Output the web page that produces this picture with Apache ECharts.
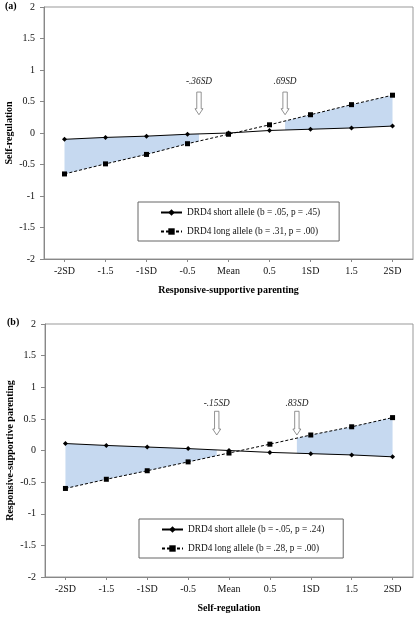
<!DOCTYPE html>
<html>
<head>
<meta charset="utf-8">
<script src="https://cdn.jsdelivr.net/npm/echarts@6/dist/echarts.min.js"></script>
<style>html,body{margin:0;padding:0;background:#fff;}#c{width:419px;height:619px;}</style>
</head>
<body>
<div id="c"></div>
<script>
// ---- data ----
var xValues = [-2, -1.5, -1, -0.5, 0, 0.5, 1, 1.5, 2];
var xTickLabels = ['-2SD', '-1.5', '-1SD', '-0.5', 'Mean', '0.5', '1SD', '1.5', '2SD'];
var yTicks = [-2, -1.5, -1, -0.5, 0, 0.5, 1, 1.5, 2];

// panel (a)
var aShortName = 'DRD4 short allele (b = .05, p = .45)';
var aLongName = 'DRD4 long allele (b = .31, p = .00)';
var aShort = [-0.10, -0.07, -0.05, -0.02, 0.00, 0.04, 0.06, 0.08, 0.11];
var aLong = [-0.65, -0.49, -0.34, -0.17, -0.02, 0.13, 0.29, 0.45, 0.60];
var aRegions = [-0.36, 0.69];

// panel (b)
var bShortName = 'DRD4 short allele (b = -.05, p = .24)';
var bLongName = 'DRD4 long allele (b = .28, p = .00)';
var bShort = [0.11, 0.08, 0.055, 0.03, 0.00, -0.03, -0.05, -0.07, -0.10];
var bLong = [-0.60, -0.455, -0.32, -0.18, -0.04, 0.10, 0.245, 0.375, 0.52];
var bRegions = [-0.15, 0.83];

// arrow geometry in data units: [top, tip, label]
var aArrowY = [0.65, 0.29, 0.81];
var bArrowY = [0.62, 0.245, 0.75];

var FONT = 'Liberation Serif';

function interp(xs, ys, x) {
  for (var i = 0; i < xs.length - 1; i++) {
    if (x >= xs[i] && x <= xs[i + 1]) {
      var t = (x - xs[i]) / (xs[i + 1] - xs[i]);
      return ys[i] + t * (ys[i + 1] - ys[i]);
    }
  }
  return ys[ys.length - 1];
}
function regionPts(s, l, from, to) {
  var pts = [];
  pts.push([from, interp(xValues, s, from), interp(xValues, l, from)]);
  xValues.forEach(function (x, i) {
    if (x > from && x < to) pts.push([x, s[i], l[i]]);
  });
  pts.push([to, interp(xValues, s, to), interp(xValues, l, to)]);
  return pts;
}
function pairs(ys) { return xValues.map(function (x, i) { return [x, ys[i]]; }); }

function shadeSeries(idx, pts) {
  return {
    type: 'custom', xAxisIndex: idx, yAxisIndex: idx, z: 1, silent: true,
    data: pts, encode: { x: 0, y: [1, 2] },
    renderItem: function (params, api) {
      if (params.dataIndex !== 0) return;
      var up = [], lo = [];
      pts.forEach(function (p) { up.push(api.coord([p[0], p[1]])); lo.push(api.coord([p[0], p[2]])); });
      return { type: 'polygon', shape: { points: up.concat(lo.reverse()) },
        style: { fill: '#c6d9f0', stroke: null } };
    }
  };
}
function arrowSeries(idx, xs, ay) {
  var data = xs.map(function (x) { return [x, ay[0], ay[1], ay[2]]; });
  return {
    type: 'custom', xAxisIndex: idx, yAxisIndex: idx, z: 5, silent: true,
    data: data, encode: { x: 0, y: [1, 2] },
    renderItem: function (params, api) {
      var x = api.value(0);
      var top = api.coord([x, api.value(1)]);
      var tip = api.coord([x, api.value(2)]);
      var lab = api.coord([x, api.value(3)]);
      var cx = tip[0], sw = 2.2, hw = 4, hh = 6;
      var pts = [[cx - sw, top[1]], [cx + sw, top[1]], [cx + sw, tip[1] - hh], [cx + hw, tip[1] - hh],
        [cx, tip[1]], [cx - hw, tip[1] - hh], [cx - sw, tip[1] - hh]];
      var txt = (x < 0 ? '-' : '') + '.' + String(Math.round(Math.abs(x) * 100)).padStart(2, '0') + 'SD';
      return { type: 'group', children: [
        { type: 'polygon', shape: { points: pts }, style: { fill: '#fff', stroke: '#777', lineWidth: 0.8 } },
        { type: 'text', x: lab[0], y: lab[1], style: { text: txt, fill: '#222', font: 'italic 9.3px ' + FONT, align: 'center', verticalAlign: 'middle' } }
      ] };
    }
  };
}
function lineSeries(idx, name, ys, dashed) {
  return {
    type: 'line', name: name, xAxisIndex: idx, yAxisIndex: idx, z: 3,
    data: pairs(ys), symbol: dashed ? 'rect' : 'diamond', symbolSize: dashed ? 5 : 5,
    itemStyle: { color: '#000' },
    lineStyle: { color: '#000', width: 1, type: dashed ? [3, 2] : 'solid' },
    animation: false
  };
}
function xAxisCfg(idx, name) {
  return {
    type: 'value', gridIndex: idx, min: -2.25, max: 2.25,
    name: name, nameLocation: 'middle', nameGap: 26, nameMoveOverlap: false,
    nameTextStyle: { fontFamily: FONT, fontWeight: 'bold', fontSize: 10, color: '#000' },
    axisLine: { onZero: false, lineStyle: { color: '#888' } },
    axisTick: { show: true, length: 3, customValues: xValues, lineStyle: { color: '#888' } },
    axisLabel: { customValues: xValues, margin: 7, fontFamily: FONT, fontSize: 10, color: '#111',
      formatter: function (v) { var i = xValues.indexOf(v); return i >= 0 ? xTickLabels[i] : ''; } },
    splitLine: { show: false }
  };
}
function yAxisCfg(idx, name) {
  return {
    type: 'value', gridIndex: idx, min: -2, max: 2, interval: 0.5,
    name: name, nameLocation: 'middle', nameGap: 30, nameRotate: 90, nameMoveOverlap: false,
    nameTextStyle: { fontFamily: FONT, fontWeight: 'bold', fontSize: 10, color: '#000' },
    axisLine: { show: true, onZero: false, lineStyle: { color: '#888' } },
    axisTick: { show: true, length: 4, lineStyle: { color: '#888' } },
    axisLabel: { margin: 9, fontFamily: FONT, fontSize: 10, color: '#111',
      formatter: function (v) { return String(v); } },
    splitLine: { show: false }
  };
}

var chart = echarts.init(document.getElementById('c'), null, { renderer: 'canvas' });
chart.setOption({
  animation: false,
  backgroundColor: '#fff',
  title: [
    { text: '(a)', left: 5, top: 1, padding: 0, textStyle: { fontFamily: FONT, fontWeight: 'bold', fontSize: 10, color: '#000' } },
    { text: '(b)', left: 7, top: 317, padding: 0, textStyle: { fontFamily: FONT, fontWeight: 'bold', fontSize: 10, color: '#000' } }
  ],
  grid: [
    { left: 44, top: 7, width: 369, height: 252, show: true, borderColor: '#999', borderWidth: 1, containLabel: false, outerBoundsMode: 'none' },
    { left: 45, top: 324, width: 368, height: 253, show: true, borderColor: '#999', borderWidth: 1, containLabel: false, outerBoundsMode: 'none' }
  ],
  xAxis: [xAxisCfg(0, 'Responsive-supportive parenting'), xAxisCfg(1, 'Self-regulation')],
  yAxis: [yAxisCfg(0, 'Self-regulation'), yAxisCfg(1, 'Responsive-supportive parenting')],
  legend: [
    { data: [aShortName, aLongName], orient: 'vertical', left: 138, top: 202, itemWidth: 21, itemHeight: 8, itemGap: 10,
      padding: [6, 19, 5, 22], borderColor: '#666', borderWidth: 1, selectedMode: false,
      textStyle: { fontFamily: FONT, fontSize: 9.3, color: '#111' } },
    { data: [bShortName, bLongName], orient: 'vertical', left: 139, top: 519, itemWidth: 21, itemHeight: 8, itemGap: 10,
      padding: [6, 19, 5, 22], borderColor: '#666', borderWidth: 1, selectedMode: false,
      textStyle: { fontFamily: FONT, fontSize: 9.3, color: '#111' } }
  ],
  series: [
    shadeSeries(0, regionPts(aShort, aLong, -2, aRegions[0])),
    shadeSeries(0, regionPts(aShort, aLong, aRegions[1], 2)),
    lineSeries(0, aShortName, aShort, false),
    lineSeries(0, aLongName, aLong, true),
    arrowSeries(0, aRegions, aArrowY),
    shadeSeries(1, regionPts(bShort, bLong, -2, bRegions[0])),
    shadeSeries(1, regionPts(bShort, bLong, bRegions[1], 2)),
    lineSeries(1, bShortName, bShort, false),
    lineSeries(1, bLongName, bLong, true),
    arrowSeries(1, bRegions, bArrowY)
  ]
});
</script>
</body>
</html>
